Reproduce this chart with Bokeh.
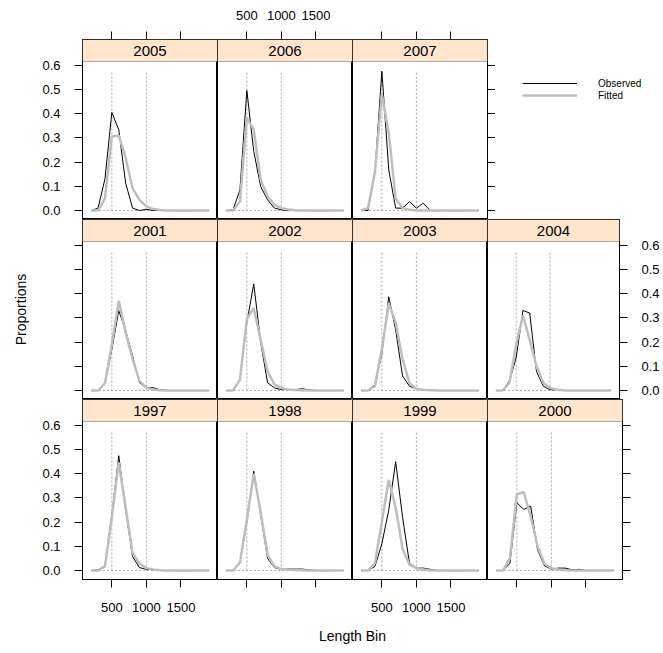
from bokeh.plotting import figure
from bokeh.models import (LinearAxis, FixedTicker, Range1d, BoxAnnotation, Label,
                          Legend, LegendItem, PrintfTickFormatter, CustomJSTickFormatter)
from bokeh.layouts import column, row
from bokeh.core.properties import value
from bokeh.embed import file_html
from bokeh.resources import INLINE

# ---------------- data ----------------
length_bins = [200, 300, 400, 500, 600, 700, 800, 900, 1000, 1100, 1200, 1300,
               1400, 1500, 1600, 1700, 1800, 1900]

obs_2005 = [0, 0.01, 0.13, 0.405, 0.334, 0.113, 0.01, 0, 0.005, 0, 0, 0, 0, 0, 0, 0, 0, 0]
fit_2005 = [0, 0, 0.05, 0.306, 0.309, 0.217, 0.092, 0.044, 0.017, 0.006, 0.002, 0, 0, 0, 0, 0, 0, 0]
obs_2006 = [0, 0.003, 0.085, 0.495, 0.244, 0.099, 0.044, 0.01, 0.003, 0, 0, 0, 0, 0, 0, 0, 0, 0]
fit_2006 = [0, 0, 0.037, 0.382, 0.334, 0.127, 0.058, 0.023, 0.01, 0.004, 0.001, 0, 0, 0, 0, 0, 0, 0]
obs_2007 = [0, 0, 0.16, 0.575, 0.168, 0.01, 0.01, 0.037, 0.01, 0.03, 0, 0, 0, 0, 0, 0, 0, 0]
fit_2007 = [0, 0.01, 0.16, 0.48, 0.32, 0.05, 0.01, 0.003, 0, 0, 0, 0, 0, 0, 0, 0, 0, 0]

obs_2001 = [0, 0, 0.03, 0.17, 0.33, 0.247, 0.143, 0.032, 0.011, 0.012, 0.003, 0, 0, 0, 0, 0, 0, 0]
fit_2001 = [0, 0, 0.03, 0.19, 0.37, 0.24, 0.13, 0.04, 0.011, 0.004, 0.001, 0, 0, 0, 0, 0, 0, 0]
obs_2002 = [0, 0, 0.045, 0.28, 0.44, 0.2, 0.032, 0.011, 0.004, 0.004, 0.004, 0.007, 0.003, 0, 0, 0, 0, 0]
fit_2002 = [0, 0, 0.045, 0.296, 0.34, 0.21, 0.08, 0.025, 0.01, 0.004, 0.002, 0.001, 0, 0, 0, 0, 0, 0]
obs_2003 = [0, 0, 0.025, 0.15, 0.387, 0.25, 0.06, 0.018, 0.007, 0.003, 0.002, 0, 0, 0, 0, 0, 0, 0]
fit_2003 = [0, 0, 0.018, 0.17, 0.36, 0.28, 0.13, 0.03, 0.007, 0.003, 0.001, 0, 0, 0, 0, 0, 0, 0]
obs_2004 = [0, 0, 0.04, 0.136, 0.33, 0.32, 0.08, 0.018, 0.004, 0.002, 0, 0, 0, 0, 0, 0, 0, 0]
fit_2004 = [0, 0, 0.032, 0.19, 0.31, 0.21, 0.1, 0.032, 0.011, 0.003, 0.001, 0, 0, 0, 0, 0, 0, 0]

obs_1997 = [0, 0.003, 0.019, 0.23, 0.474, 0.25, 0.058, 0.012, 0.005, 0.003, 0.001, 0, 0, 0, 0, 0, 0, 0]
fit_1997 = [0, 0, 0.017, 0.22, 0.446, 0.26, 0.072, 0.028, 0.01, 0.004, 0.001, 0, 0, 0, 0, 0, 0, 0]
obs_1998 = [0, 0, 0.033, 0.2, 0.41, 0.23, 0.05, 0.012, 0.005, 0.006, 0.006, 0.006, 0.003, 0, 0, 0, 0, 0]
fit_1998 = [0, 0, 0.033, 0.21, 0.40, 0.24, 0.065, 0.017, 0.006, 0.003, 0.002, 0.001, 0, 0, 0, 0, 0, 0]
obs_1999 = [0, 0, 0.017, 0.11, 0.25, 0.449, 0.22, 0.03, 0.01, 0.01, 0.005, 0, 0, 0, 0, 0, 0, 0]
fit_1999 = [0, 0, 0.03, 0.2, 0.374, 0.26, 0.09, 0.024, 0.01, 0.004, 0.001, 0, 0, 0, 0, 0, 0, 0]
obs_2000 = [0, 0, 0.03, 0.28, 0.252, 0.266, 0.086, 0.019, 0.006, 0.01, 0.01, 0.003, 0.005, 0, 0, 0, 0, 0]
fit_2000 = [0, 0, 0.05, 0.314, 0.324, 0.224, 0.1, 0.028, 0.01, 0.004, 0.001, 0, 0, 0, 0, 0, 0, 0]

panel_rows = [[2005, 2006, 2007, None],
              [2001, 2002, 2003, 2004],
              [1997, 1998, 1999, 2000]]
y_ticks = [0.0, 0.1, 0.2, 0.3, 0.4, 0.5, 0.6]
x_ticks = [500, 1000, 1500]
ref_lengths = [500, 1000]
legend_labels = ["Observed", "Fitted"]

observed = {2005: obs_2005, 2006: obs_2006, 2007: obs_2007, 2001: obs_2001, 2002: obs_2002,
            2003: obs_2003, 2004: obs_2004, 1997: obs_1997, 1998: obs_1998, 1999: obs_1999,
            2000: obs_2000}
fitted = {2005: fit_2005, 2006: fit_2006, 2007: fit_2007, 2001: fit_2001, 2002: fit_2002,
          2003: fit_2003, 2004: fit_2004, 1997: fit_1997, 1998: fit_1998, 1999: fit_1999,
          2000: fit_2000}
obs_max = max(max(v) for v in observed.values())

# ---------------- style / geometry ----------------
FONT = "Liberation Sans"
X0, X1 = 75, 2030
Y0, YTOP = -0.037, 0.615
FRAME_W, FRAME_H, STRIP_H = 135, 180, 22
YEND = Y0 + (YTOP - Y0) * FRAME_H / (FRAME_H - STRIP_H)
LEFT_B, RIGHT_B, TOP_B, BOT_B = 82, 40, 39, 40
TICK = 8
RIGHT_TICK_B = 8
FOOT_H = 26
TICK_FONT = "13px"
STRIP_COL = "#ffe5cc"
FIT_COL = "#bebebe"
REF_COL = "#a8a8a8"

blank_fmt = CustomJSTickFormatter(code="return ''")


def make_axis(ticks, labels, is_y, tick_out=TICK, standoff=14):
    ax = LinearAxis(ticker=FixedTicker(ticks=ticks),
                    major_tick_out=tick_out, major_tick_in=0,
                    minor_tick_out=0, minor_tick_in=0,
                    axis_line_color="black", major_tick_line_color="black",
                    major_label_text_font=FONT, major_label_text_font_size=TICK_FONT,
                    major_label_text_color="black",
                    major_label_standoff=standoff if labels else 0)
    if labels:
        ax.formatter = PrintfTickFormatter(format="%.1f") if is_y else PrintfTickFormatter(format="%d")
    else:
        ax.formatter = blank_fmt
    return ax


def panel(year, ci, ri):
    bl = LEFT_B if ci == 0 else 0
    br = RIGHT_B if ci == 3 else (RIGHT_TICK_B if (ri == 0 and ci == 2) else 0)
    bt = TOP_B if ri == 0 else 0
    bb = BOT_B if ri == 2 else 0
    p = figure(width=FRAME_W + bl + br, height=FRAME_H + bt + bb,
               x_range=Range1d(X0, X1), y_range=Range1d(Y0, YEND),
               output_backend="svg", toolbar_location=None,
               x_axis_location=None, y_axis_location=None,
               min_border_left=bl, min_border_right=br,
               min_border_top=bt, min_border_bottom=bb,
               outline_line_color="black", outline_line_width=1,
               background_fill_color="white", border_fill_color="white")
    p.grid.visible = False

    # strip
    p.add_layout(BoxAnnotation(bottom=YTOP, fill_color=STRIP_COL, fill_alpha=1.0,
                               line_color="black", line_width=1))
    p.add_layout(Label(x=(X0 + X1) / 2, y=(YTOP + YEND) / 2, text=str(year),
                       text_align="center", text_baseline="middle",
                       text_font=FONT, text_font_size="15px", text_font_style="normal",
                       text_color="black"))

    # reference lines
    p.segment(x0=ref_lengths, y0=[0] * len(ref_lengths), x1=ref_lengths,
              y1=[obs_max] * len(ref_lengths),
              line_color=REF_COL, line_dash="2 2", line_width=1)
    p.segment(x0=[length_bins[0]], y0=[0], x1=[length_bins[-1]], y1=[0],
              line_color=REF_COL, line_dash="2 2", line_width=1)

    p.line(length_bins, observed[year], line_color="black", line_width=1)
    p.line(length_bins, fitted[year], line_color=FIT_COL, line_width=2.5)

    # axes
    if ci == 0:
        ax = make_axis(y_ticks, ri != 1, True)
        if ri == 1:
            ax.axis_label = "Proportions"
            ax.axis_label_text_font = FONT
            ax.axis_label_text_font_size = "14px"
            ax.axis_label_text_font_style = "normal"
            ax.axis_label_text_color = "black"
            ax.axis_label_standoff = 46
        p.add_layout(ax, "left")
    if ci == 3:
        p.add_layout(make_axis(y_ticks, ri == 1, True), "right")
    if ri == 0 and ci == 2:
        p.add_layout(make_axis(y_ticks, False, True), "right")
    if ri == 0:
        p.add_layout(make_axis(x_ticks, ci == 1, False, standoff=12), "above")
    if ri == 2:
        p.add_layout(make_axis(x_ticks, ci in (0, 2), False, standoff=15), "below")
    return p


def legend_fig():
    w = FRAME_W + RIGHT_B - RIGHT_TICK_B
    lf = figure(width=w, height=FRAME_H + TOP_B,
                x_range=Range1d(0, 1), y_range=Range1d(0, 1),
                output_backend="svg", toolbar_location=None,
                x_axis_location=None, y_axis_location=None,
                min_border_left=0, min_border_right=0,
                min_border_top=TOP_B, min_border_bottom=0,
                outline_line_color=None,
                background_fill_color="white", border_fill_color="white")
    lf.grid.visible = False
    nan = float("nan")
    r1 = lf.line(x=[nan], y=[nan], line_color="black", line_width=1)
    r2 = lf.line(x=[nan], y=[nan], line_color=FIT_COL, line_width=2.5)
    leg = Legend(items=[LegendItem(label=legend_labels[0], renderers=[r1]),
                        LegendItem(label=legend_labels[1], renderers=[r2])],
                 location=(27, 118), glyph_width=55, glyph_height=12,
                 label_height=12, spacing=0, padding=0, margin=0,
                 border_line_color=None, background_fill_alpha=0,
                 label_text_font=FONT, label_text_font_size="10px",
                 label_text_color="black", label_standoff=21)
    lf.add_layout(leg)
    return lf


rows = []
for ri, yrs in enumerate(panel_rows):
    figs = []
    for ci, yr in enumerate(yrs):
        if yr is None:
            figs.append(legend_fig())
        else:
            figs.append(panel(yr, ci, ri))
    rows.append(row(*figs, spacing=0))

total_w = LEFT_B + 4 * FRAME_W + RIGHT_B
footer = figure(width=total_w, height=FOOT_H, x_range=Range1d(0, 1), y_range=Range1d(0, 1),
                output_backend="svg", toolbar_location=None,
                x_axis_location=None, y_axis_location=None,
                min_border_left=LEFT_B, min_border_right=RIGHT_B,
                min_border_top=0, min_border_bottom=0,
                outline_line_color=None, background_fill_color="white",
                border_fill_color="white")
footer.grid.visible = False
footer.text(x=[0.5], y=[0.35], text=["Length Bin"], text_align="center",
            text_baseline="middle", text_font=value(FONT), text_font_size="14px",
            text_color="black")

layout = column(*rows, footer, spacing=0)
open("out.html", "w").write(file_html(layout, INLINE))
